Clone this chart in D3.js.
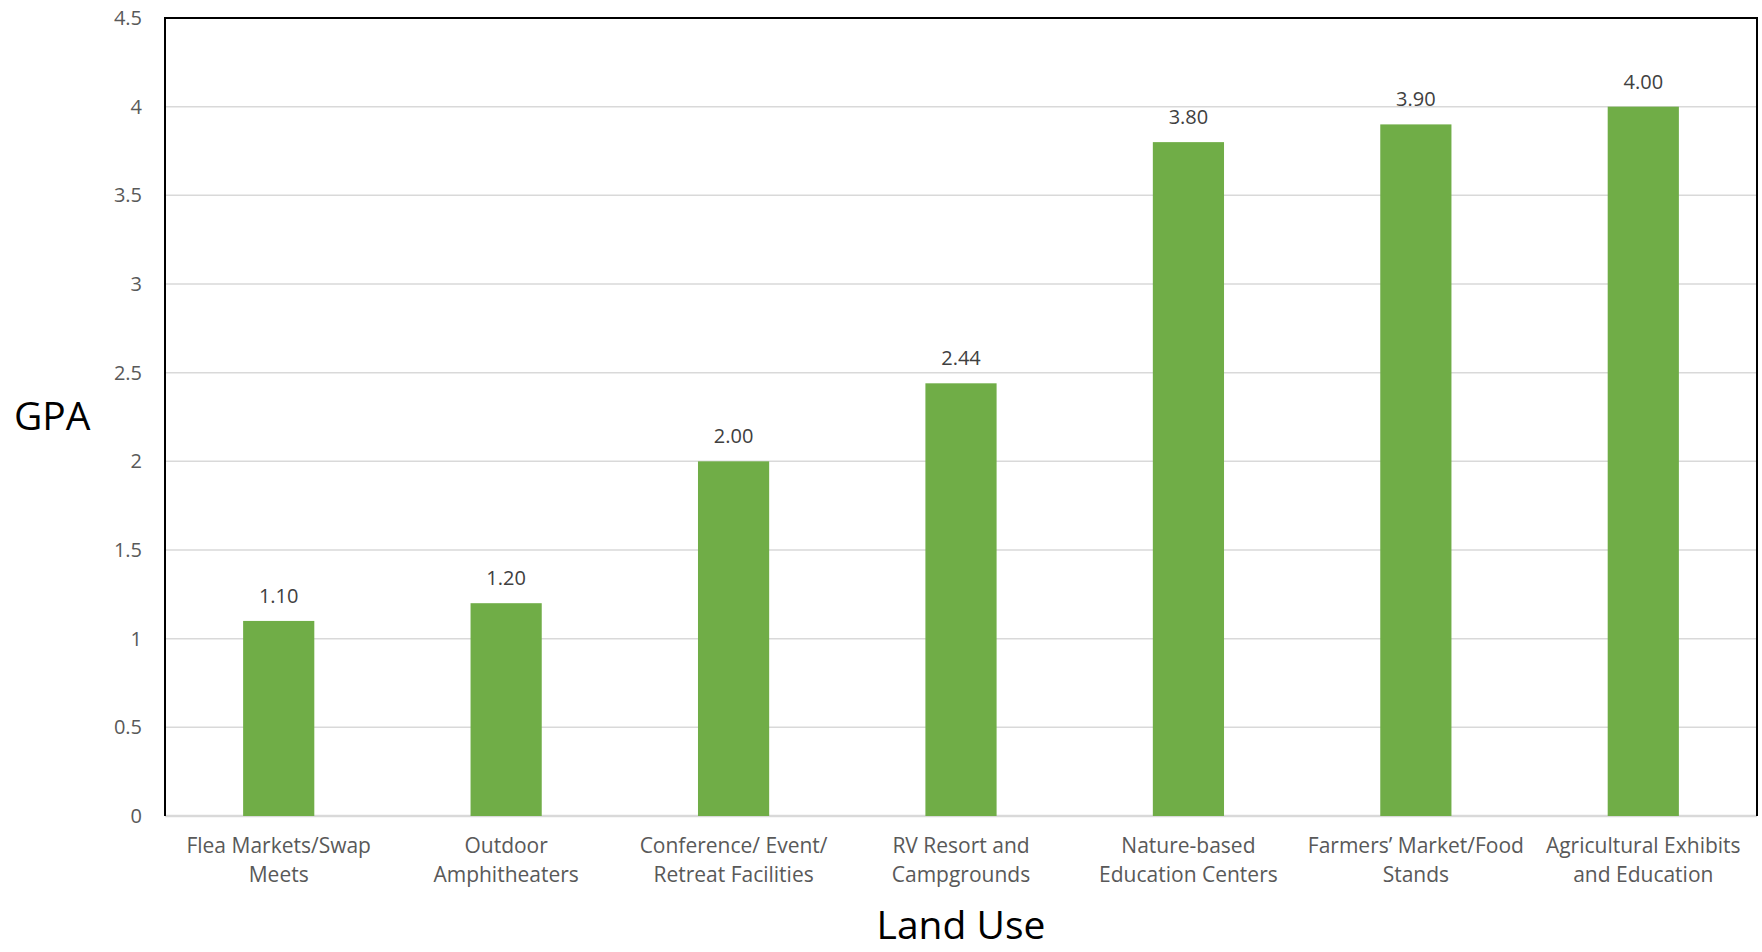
<!DOCTYPE html>
<html>
<head>
<meta charset="utf-8">
<script src="https://cdn.jsdelivr.net/npm/d3@7"></script>
<style>
  html, body { margin: 0; padding: 0; background: #fff; }
  svg { display: block; font-family: "Open Sans", "Noto Sans", sans-serif; }
</style>
</head>
<body>
<svg id="chart" width="1762" height="952"></svg>
<script>
// Land-use categories (two-line labels) and their GPA scores
const categories = [
  ["Flea Markets/Swap", "Meets"],
  ["Outdoor", "Amphitheaters"],
  ["Conference/ Event/", "Retreat Facilities"],
  ["RV Resort and", "Campgrounds"],
  ["Nature-based", "Education Centers"],
  ["Farmers\u2019 Market/Food", "Stands"],
  ["Agricultural Exhibits", "and Education"]
];
const gpaValues = [1.10, 1.20, 2.00, 2.44, 3.80, 3.90, 4.00];
const yTicks = [0, 0.5, 1, 1.5, 2, 2.5, 3, 3.5, 4, 4.5];

const svg = d3.select("#chart");
const margin = { left: 165, right: 5, top: 18, bottom: 136 };
const W = 1762, H = 952;
const x0 = margin.left, x1 = W - margin.right;
const y0 = H - margin.bottom, y1 = margin.top;

const x = d3.scaleBand()
  .domain(d3.range(categories.length))
  .range([x0, x1])
  .paddingInner(0.687)
  .paddingOuter(0.3435);

const y = d3.scaleLinear().domain([0, 4.5]).range([y0, y1]);

// horizontal gridlines
svg.append("g")
  .selectAll("line")
  .data(yTicks)
  .join("line")
  .attr("x1", x0).attr("x2", x1)
  .attr("y1", d => y(d)).attr("y2", d => y(d))
  .attr("stroke", "#d9d9d9")
  .attr("stroke-width", d => d === 0 ? 2.5 : 1.5);

// y-axis tick labels
const yAxis = d3.axisLeft(y).tickValues(yTicks).tickSize(0).tickPadding(23)
  .tickFormat(d3.format("~g"));
const gy = svg.append("g").attr("transform", `translate(${x0},0)`).call(yAxis);
gy.select(".domain").remove();
gy.selectAll("text")
  .attr("font-size", 20)
  .attr("fill", "#595959")
  .attr("font-family", "\"Open Sans\", sans-serif");

// bars
svg.append("g")
  .selectAll("rect")
  .data(gpaValues)
  .join("rect")
  .attr("x", (d, i) => x(i))
  .attr("width", x.bandwidth())
  .attr("y", d => y(d))
  .attr("height", d => y(0) - y(d))
  .attr("fill", "#70ad47");

// value labels
svg.append("g")
  .selectAll("text")
  .data(gpaValues)
  .join("text")
  .attr("x", (d, i) => x(i) + x.bandwidth() / 2)
  .attr("y", d => y(d) - 18)
  .attr("text-anchor", "middle")
  .attr("font-size", 20)
  .attr("fill", "#404040")
  .text(d => d3.format(".2f")(d));

// plot frame: left, top and right edges
svg.append("path")
  .attr("d", `M${x0},${y0} V${y1} H${x1} V${y0}`)
  .attr("fill", "none")
  .attr("stroke", "#000")
  .attr("stroke-width", 2);

// category labels
const cat = svg.append("g")
  .selectAll("text")
  .data(categories)
  .join("text")
  .attr("text-anchor", "middle")
  .attr("font-size", 21)
  .attr("fill", "#595959");
cat.each(function (lines, i) {
  const t = d3.select(this);
  lines.forEach((ln, k) => {
    t.append("tspan")
      .attr("x", x(i) + x.bandwidth() / 2)
      .attr("y", 853 + k * 29)
      .text(ln);
  });
});

// axis titles
svg.append("text")
  .attr("x", 14).attr("y", 430)
  .attr("font-size", 39)
  .attr("fill", "#000")
  .text("GPA");

svg.append("text")
  .attr("x", (x0 + x1) / 2).attr("y", 939)
  .attr("text-anchor", "middle")
  .attr("font-size", 39)
  .attr("fill", "#000")
  .text("Land Use");
</script>
</body>
</html>
